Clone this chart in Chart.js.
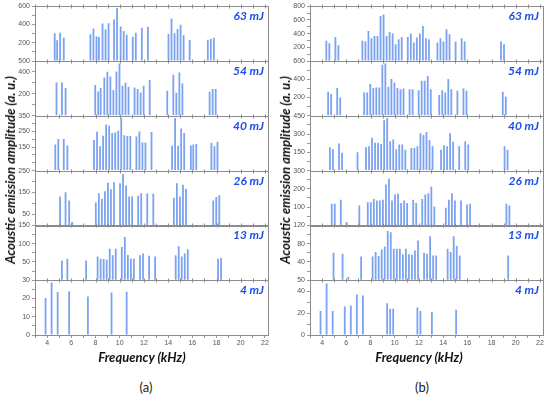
<!DOCTYPE html>
<html>
<head>
<meta charset="utf-8">
<script src="https://cdn.jsdelivr.net/npm/chart.js@4.4.1/dist/chart.umd.min.js"></script>
<style>
  body { margin: 0; width: 550px; height: 399px; background: #fff; position: relative; overflow: hidden; font-family: Lato, sans-serif; }
  canvas { position: absolute; top: 0; }
  #chartA { left: 0; }
  #chartB { left: 275px; }
  .ytitle { position: absolute; top: 170px; font: italic bold 13px Lato; color: #111; white-space: nowrap;
            transform: translate(-50%, -50%) rotate(-90deg); }
  .xtitle { position: absolute; top: 357px; font: italic bold 13px Lato; color: #111; white-space: nowrap;
            transform: translate(-50%, -50%); }
  .panel { position: absolute; top: 387px; font: 13px Lato; color: #222; transform: translate(-50%, -50%); }
</style>
</head>
<body>
<canvas id="chartA" width="275" height="350"></canvas>
<canvas id="chartB" width="275" height="350"></canvas>
<div class="ytitle" style="left:10px">Acoustic emission amplitude (a. u.)</div>
<div class="ytitle" style="left:285px">Acoustic emission amplitude (a. u.)</div>
<div class="xtitle" style="left:142px">Frequency (kHz)</div>
<div class="xtitle" style="left:419px">Frequency (kHz)</div>
<div class="panel" style="left:146px">(a)</div>
<div class="panel" style="left:422px">(b)</div>
<script>
// laser energy of each stacked plot, top to bottom
const energies = ['63 mJ', '54 mJ', '40 mJ', '26 mJ', '13 mJ', '4 mJ'];
const freqTicks = [4, 6, 8, 10, 12, 14, 16, 18, 20, 22];

// ---- panel (a) ----
const freqA63 = [5.0, 5.2, 5.45, 5.75, 7.95, 8.2, 8.45, 8.65, 8.95, 9.2, 9.45, 9.9, 10.15, 10.45, 10.7, 10.95, 11.45, 11.7, 12.2, 12.7, 14.4, 14.65, 14.9, 15.15, 15.4, 15.65, 16.15, 17.65, 17.9, 18.15];
const ampA63  = [303, 227, 309, 255, 292, 357, 270, 263, 411, 346, 414, 454, 580, 378, 328, 288, 266, 309, 363, 374, 298, 465, 303, 349, 396, 281, 230, 234, 241, 255];
const freqA54 = [5.0, 5.45, 5.75, 8.2, 8.45, 8.65, 8.95, 9.2, 9.45, 9.7, 9.95, 10.2, 10.45, 10.7, 10.95, 11.45, 11.7, 11.95, 12.2, 12.7, 14.15, 14.65, 14.9, 15.15, 15.4, 17.65, 17.9, 18.15];
const ampA54  = [304, 304, 253, 280, 222, 253, 350, 402, 359, 235, 405, 478, 274, 302, 265, 259, 244, 213, 274, 326, 228, 375, 210, 396, 295, 219, 244, 244];
const freqA40 = [4.75, 5.0, 5.45, 5.75, 7.95, 8.2, 8.45, 8.7, 8.95, 9.2, 9.45, 9.7, 9.95, 10.2, 10.45, 10.7, 10.95, 11.45, 11.7, 11.95, 12.2, 12.7, 14.4, 14.65, 14.9, 15.15, 15.4, 15.95, 16.15, 16.4, 17.65, 17.9, 18.15];
const ampA40  = [166, 202, 202, 161, 196, 248, 155, 223, 295, 287, 240, 244, 255, 336, 225, 221, 221, 217, 250, 180, 180, 246, 159, 336, 159, 269, 240, 161, 166, 170, 178, 155, 185];
const freqA26 = [5.0, 5.45, 5.75, 6.0, 7.95, 8.2, 8.45, 8.7, 8.95, 9.2, 9.45, 9.95, 10.2, 10.45, 10.7, 10.95, 11.45, 11.7, 12.2, 12.7, 14.4, 14.65, 14.9, 15.15, 15.4, 17.65, 17.9, 18.15];
const ampA26  = [132, 151, 114, 15, 105, 147, 121, 156, 195, 165, 197, 192, 235, 182, 132, 132, 135, 147, 146, 144, 126, 192, 132, 186, 167, 114, 129, 138];
const freqA13 = [5.0, 5.45, 7.0, 7.95, 8.2, 8.45, 8.7, 8.95, 9.2, 9.45, 9.95, 10.2, 10.45, 10.7, 10.95, 11.45, 11.7, 12.2, 12.7, 14.4, 14.65, 14.9, 15.15, 15.4, 17.9, 18.15];
const ampA13  = [54, 59, 54, 65, 59, 58, 56, 86, 68, 86, 91, 118, 69, 59, 59, 68, 73, 67, 65, 68, 93, 65, 73, 85, 59, 60];
const freqA4  = [3.5, 4.0, 4.5, 5.45, 7.0, 8.95, 10.2];
const ampA4   = [20.2, 28.7, 23.5, 24, 21.1, 23.3, 23.7];
const yMaxA    = [600, 500, 350, 250, 150, 30];
const yLabelsA = [[200, 400, 600], [200, 400, 500], [150, 250, 350], [50, 150, 250], [50, 100, 150], [0, 10, 20, 30]];
const yMinorA  = [100, 100, 50, 50, 25, 5];

// ---- panel (b) ----
const freqB63 = [4.72, 4.97, 5.47, 5.72, 7.7, 7.95, 8.2, 8.45, 8.7, 8.95, 9.2, 9.45, 9.7, 9.95, 10.2, 10.45, 10.7, 10.95, 11.45, 11.7, 11.95, 12.2, 12.45, 12.7, 12.95, 13.2, 13.9, 14.15, 14.4, 14.65, 14.9, 15.4, 15.9, 16.15, 19.15, 19.4];
const ampB63  = [294, 260, 352, 231, 294, 284, 438, 333, 366, 366, 656, 680, 366, 424, 400, 246, 318, 352, 352, 400, 270, 343, 400, 511, 333, 318, 270, 333, 284, 463, 391, 284, 333, 284, 284, 246];
const freqB54 = [4.72, 4.97, 5.47, 5.72, 7.7, 7.95, 8.2, 8.45, 8.7, 8.95, 9.2, 9.45, 9.7, 9.95, 10.2, 10.45, 10.7, 10.95, 11.45, 11.7, 12.2, 12.45, 12.7, 12.95, 13.2, 13.9, 14.15, 14.4, 14.65, 14.9, 15.4, 15.9, 16.15, 19.15, 19.4];
const ampB54  = [263, 238, 304, 201, 256, 256, 347, 304, 311, 311, 559, 574, 318, 402, 365, 304, 292, 300, 292, 292, 281, 384, 384, 435, 292, 227, 281, 256, 402, 292, 274, 300, 274, 263, 208];
const freqB40 = [4.72, 4.97, 5.47, 5.72, 7.0, 7.7, 7.95, 8.2, 8.45, 8.7, 8.95, 9.2, 9.45, 9.7, 9.95, 10.2, 10.45, 10.7, 10.95, 11.45, 11.7, 11.95, 12.2, 12.45, 12.7, 12.95, 13.2, 13.9, 14.15, 14.4, 14.65, 14.9, 15.4, 15.9, 16.15, 19.15, 19.4];
const ampB40  = [192, 178, 222, 147, 150, 192, 200, 269, 228, 228, 219, 414, 431, 242, 256, 175, 214, 214, 172, 186, 186, 200, 306, 292, 317, 250, 200, 172, 208, 200, 306, 236, 200, 242, 214, 200, 172];
const freqB26 = [4.72, 4.97, 5.47, 5.95, 7.0, 7.7, 7.95, 8.2, 8.45, 8.7, 8.95, 9.2, 9.45, 9.7, 9.95, 10.2, 10.45, 10.7, 10.95, 11.45, 11.7, 12.2, 12.45, 12.7, 12.95, 13.2, 14.15, 14.4, 14.65, 14.9, 15.4, 15.9, 16.15, 19.15, 19.4];
const ampB26  = [118, 118, 140, 18, 109, 127, 127, 145, 136, 136, 140, 224, 255, 136, 169, 173, 122, 136, 122, 140, 122, 145, 169, 176, 213, 104, 96, 140, 176, 136, 136, 115, 118, 118, 109];
const freqB13 = [4.72, 5.47, 5.95, 7.0, 7.95, 8.2, 8.45, 8.7, 8.95, 9.2, 9.45, 9.7, 9.95, 10.2, 10.45, 10.7, 10.95, 11.2, 11.45, 11.7, 12.2, 12.45, 12.7, 12.95, 13.2, 14.15, 14.4, 14.65, 14.9, 15.15, 19.15];
const ampB13  = [60, 58, 7, 52, 52, 62, 53, 67, 74, 108, 105, 69, 69, 69, 57, 69, 57, 56, 65, 87, 60, 58, 96, 54, 54, 69, 62, 96, 75, 54, 54];
const freqB4  = [3.5, 4.0, 4.5, 5.5, 6.0, 6.5, 7.0, 9.0, 9.25, 9.5, 11.5, 11.75, 12.7, 14.7];
const ampB4   = [22, 47, 22, 26, 27, 37, 36, 29, 24, 24, 25, 22, 21, 23];
const yMaxB    = [800, 600, 450, 300, 120, 50];
const yLabelsB = [[200, 400, 600, 800], [200, 400, 600], [150, 300, 450], [100, 200, 300], [40, 80, 120], [0, 20, 40, 50]];
const yMinorB  = [100, 100, 75, 50, 20, 10];

// box around each stacked plot, ticks on its top edge, energy label
const framePlugin = {
  id: 'frames',
  afterDraw(chart) {
    const { ctx, chartArea } = chart;
    const xs = chart.scales.x;
    ctx.save();
    energies.forEach((label, i) => {
      const ys = chart.scales['y' + i];
      const top = Math.round(ys.top) + 0.5;
      ctx.strokeStyle = '#8c8c8c';
      ctx.lineWidth = 1;
      ctx.strokeRect(Math.round(chartArea.left) + 0.5, top, Math.round(chartArea.right - chartArea.left), Math.round(ys.bottom - ys.top));
      ctx.beginPath();
      for (let f = 3; f <= 22; f++) {
        const px = Math.round(xs.getPixelForValue(f)) + 0.5;
        ctx.moveTo(px, top - 2);
        ctx.lineTo(px, top + 2);
      }
      ctx.stroke();
      ctx.fillStyle = '#1f4fe6';
      ctx.font = 'italic bold 12px Lato';
      ctx.textAlign = 'right';
      ctx.fillText(label, chartArea.right - 4, ys.top + 14);
    });
    ctx.restore();
  }
};

function buildPanel(canvasId, freqs, amps, maxes, labels, minors) {
  const datasets = [];
  const scales = {
    x: {
      type: 'linear',
      position: 'bottom',
      offset: false,
      min: 3,
      max: 22.25,
      afterFit: s => { s.height = 15; },
      afterBuildTicks: s => {
        const t = [];
        for (let f = 3; f <= 22; f++) t.push({ value: f });
        s.ticks = t;
      },
      ticks: {
        autoSkip: false,
        maxRotation: 0,
        padding: 1,
        color: '#555',
        font: { family: 'Liberation Sans', size: 7 },
        callback: v => freqTicks.includes(v) ? v : ''
      },
      grid: { drawOnChartArea: false, offset: false, tickLength: 3, color: '#999' },
      border: { color: '#8c8c8c' }
    }
  };
  freqs.forEach((fr, i) => {
    datasets.push({
      label: energies[i],
      yAxisID: 'y' + i,
      data: fr.map((f, k) => ({ x: f, y: amps[i][k] })),
      backgroundColor: 'rgba(80, 132, 235, 0.75)',
      barThickness: 1.8,
      inflateAmount: 0,
      borderWidth: 0
    });
  });
  // stacked y axes: the first one declared ends up at the bottom
  for (let i = freqs.length - 1; i >= 0; i--) {
    scales['y' + i] = {
      type: 'linear',
      position: 'left',
      stack: 'energy',
      stackWeight: 1,
      min: 0,
      max: maxes[i],
      afterFit: s => { s.width = 35; },
      afterBuildTicks: s => {
        const t = [];
        for (let v = 0; v <= maxes[i]; v += minors[i]) t.push({ value: v });
        s.ticks = t;
      },
      ticks: {
        autoSkip: false,
        padding: 2,
        color: '#555',
        font: { family: 'Liberation Sans', size: 7 },
        callback: v => labels[i].includes(v) ? v : ''
      },
      grid: { drawOnChartArea: false, tickLength: 3, color: '#999' },
      border: { color: '#8c8c8c' }
    };
  }

  return new Chart(document.getElementById(canvasId), {
    type: 'bar',
    data: { datasets },
    options: {
      responsive: false,
      animation: false,
      layout: { padding: { top: 5, right: 7, left: 0, bottom: 0 } },
      plugins: { legend: { display: false }, tooltip: { enabled: false } },
      scales
    },
    plugins: [framePlugin]
  });
}

buildPanel('chartA',
  [freqA63, freqA54, freqA40, freqA26, freqA13, freqA4],
  [ampA63, ampA54, ampA40, ampA26, ampA13, ampA4],
  yMaxA, yLabelsA, yMinorA);
buildPanel('chartB',
  [freqB63, freqB54, freqB40, freqB26, freqB13, freqB4],
  [ampB63, ampB54, ampB40, ampB26, ampB13, ampB4],
  yMaxB, yLabelsB, yMinorB);
</script>
</body>
</html>
